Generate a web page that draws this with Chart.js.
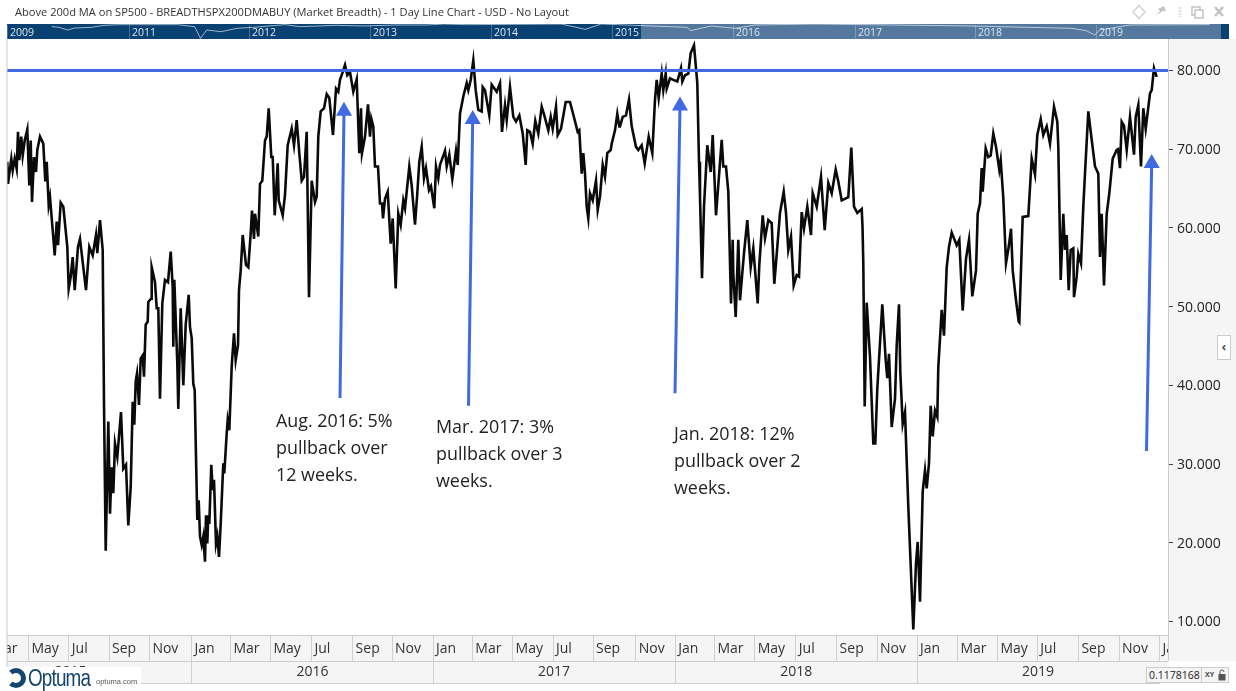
<!DOCTYPE html>
<html>
<head>
<meta charset="utf-8">
<title>Above 200d MA on SP500</title>
<script src="https://cdn.jsdelivr.net/npm/chart.js@4/dist/chart.umd.min.js"></script>
<style>
  html, body { margin: 0; padding: 0; background: #fff; overflow: hidden; }
  body { width: 1236px; height: 691px; position: relative; font-family: "Open Sans", sans-serif; color: #222; }
  #chart { position: absolute; left: 0; top: 0; }
  .abs { position: absolute; white-space: nowrap; }
  #title { left: 15px; top: 4px; font-size: 11.1px; line-height: 16px; color: #333; }
  #band { left: 7px; top: 24px; width: 1222px; height: 15px; background: #0a4173; }
  #window { left: 641px; top: 24px; width: 580px; height: 15px; background: #55799e; }
  #overview { position: absolute; left: 7px; top: 24px; }
  .yr { top: 25px; font-size: 10.5px; line-height: 14px; color: #dbe5ee; padding-left: 2px; height: 14px; border-left: 1px solid rgba(255,255,255,.25); }
  .note { font-size: 17.9px; line-height: 27px; color: #222; }
  #logo { left: 5px; top: 667px; width: 136px; height: 24px; background: #fff; }
  #logo b { position: absolute; left: 23px; top: -2px; font: 400 23px/26px "Liberation Sans", sans-serif; color: #14456f; letter-spacing: -1px; transform: scaleX(.82); transform-origin: left top; }
  #logo i { position: absolute; left: 91px; top: 10px; font: 400 7.5px/10px "Liberation Sans", sans-serif; color: #555; }
  #logo u { position: absolute; left: 1px; top: 1px; width: 10px; height: 10px; border: 5px solid #14456f; border-radius: 50%; border-left-color: #fff; }
  #cursor { left: 1146px; top: 667px; width: 81px; height: 14px; border: 1px solid #ccc; background: #f5f5f5; font-size: 10.5px; line-height: 14px; overflow: hidden; }
  #cursor span { position: absolute; left: 2px; }
  #cursor em { position: absolute; right: 0; top: 0; width: 27px; height: 14px; background: #f5f5f5; border-left: 1px solid #ccc; font: 700 7px/14px "Open Sans", sans-serif; padding-left: 3px; box-sizing: border-box; color: #444; }
  #cursor svg { position: absolute; right: 2px; top: 1px; }
  #tab { left: 1217px; top: 335px; width: 12px; height: 23px; border: 1px solid #ccc; background: #fff; font-size: 13px; font-weight: 700; line-height: 21px; text-align: center; color: #555; }
  #icons { left: 1130px; top: 3px; }
</style>
</head>
<body>
<canvas id="chart" width="1236" height="691"></canvas>
<div class="abs" id="title">Above 200d MA on SP500 - BREADTHSPX200DMABUY (Market Breadth) - 1 Day Line Chart - USD - No Layout</div>
<div class="abs" id="band"></div>
<div class="abs" id="window"></div>
<canvas id="overview" width="1222" height="15"></canvas>
<div id="navLabels"></div>
<svg class="abs" id="icons" width="100" height="18" viewBox="0 0 100 18">
  <path d="M9 2.5 L15 9 L9 15.5 L3 9 Z" fill="none" stroke="#ccc" stroke-width="1.2"/>
  <path d="M25 13 L30 8 L28 6 L34 3 L36 8 L33 8 L28 11 Z" fill="#c4c4c4"/>
  <path d="M50 4 v10" stroke="#e4e4e4" stroke-width="3" stroke-dasharray="2 1"/>
  <rect x="62" y="4" width="8" height="8" fill="none" stroke="#bbb" stroke-width="1.3"/>
  <rect x="65" y="7" width="8" height="8" fill="#fff" stroke="#bbb" stroke-width="1.3"/>
  <path d="M85 4 L93 13 M93 4 L85 13" stroke="#c4c4c4" stroke-width="2.6"/>
</svg>
<div class="abs note" style="left:276px;top:407px">Aug. 2016: 5%<br>pullback over<br>12 weeks.</div>
<div class="abs note" style="left:436px;top:413px">Mar. 2017: 3%<br>pullback over 3<br>weeks.</div>
<div class="abs note" style="left:674px;top:420px">Jan. 2018: 12%<br>pullback over 2<br>weeks.</div>
<div class="abs" id="logo"><u></u><b>Optuma</b><i>optuma.com</i></div>
<div class="abs" id="cursor"><span>0.1178168</span><em>XY</em><svg width="8" height="12" viewBox="0 0 8 12"><path d="M2 5 V3 a2 2 0 0 1 4 0" fill="none" stroke="#555" stroke-width="1"/><rect x="0.5" y="5" width="7" height="6.5" fill="#555"/></svg></div>
<div class="abs" id="tab">&lsaquo;</div>
<script>
// sessions on the time axis (about one per pixel)
const sessions = [
  0.3,1,4.3,5.7,7.7,9.7,11,12.3,14.3,15.7,
  17.7,20.3,22.3,23.7,25,27,29,30.3,33,36.3,
  38.3,39.7,41.7,43,45.7,47.7,49.7,51,53.7,56.3,
  60.3,61.7,63.7,65.7,67.7,71,73,76.3,79,82.3,
  85.7,89,90.3,93,95.7,97,98.7,101.3,103,104.7,
  106.3,108,110.3,114,116.3,119,121.3,123.7,125.7,127.3,
  128.7,130,132,133.7,135.7,137,138.7,140.7,141.3,144,
  144.7,148,149.7,151.3,153,155.3,158,161,163.7,165.7,
  166.3,167.3,170.3,171.3,173.7,176.3,178.7,181.7,183,184.7,
  186.3,187.7,189,190.3,191.7,193,194.7,196.3,198,199,
  200.3,201.3,202.3,204.3,205.7,207,209,210.3,212,213.7,
  216.3,217.3,219.7,220.7,222.3,224.7,227,228.7,231,232,
  233.7,235.7,239,241.3,243.7,245,247,248,251.3,253,
  255.3,258,259.7,261.7,264.3,265.7,267.7,270.7,271.7,275.7,
  278,280.7,284.7,287,289.7,292.3,294.7,297,299.7,302,
  304.7,308,309.7,311.3,313.7,317,319.7,322.3,326,329,
  331.3,333,335.7,338,340.3,343,346.3,349.7,352.3,354,
  355,358,361,363,364.3,366.3,368,371,373,375,
  376,378,380.7,383.7,385.7,388.7,391.3,393.7,396.3,398,
  402.3,404.7,408,410.3,412.3,414.7,417,419,422,424,
  427.3,429,431.3,433,438,439.7,442.3,445.3,449,450.7,
  453,456.3,459.7,461.3,463.7,466.3,468.7,471.3,474.7,475.7,
  478,482.3,484.7,489.7,493,495,498,499.7,503,506.3,
  509,512.3,515.7,518.7,520.3,523,525.7,528.3,531.3,534.7,
  537.3,541.3,543.7,545.7,549,550.7,554,558.7,563,567.3,
  570.7,572.3,574.7,576.3,578,579.7,581.3,583,585.7,589,
  590.7,593,595.7,598,600.3,603.7,604.7,608,610.3,612.3,
  613,615.7,619,622,624.7,629,631.3,634.7,637.7,641.7,
  645.3,648,649.7,651.7,654.7,656.3,658.7,659.7,663,666.3,
  670.3,674,675.3,678,681.3,683.7,687,690.3,692,693,
  695,697,700.3,703.7,705.7,709,711.7,714.7,716.3,719,
  721.3,724,725.7,726.3,728.7,731.3,733,737,740.3,743.7,
  746.3,750.7,752.3,755.7,758,761.3,764.7,767.3,770.3,773,
  776.7,779,781.3,784,786.7,789.7,792,794.7,797,800.3,
  804,805.7,809.7,814,817.7,821.3,824.7,828.7,831.3,834.7,
  841.3,844.3,847,850.3,854.7,855.5,856.3,857.7,859.7,863,
  866.3,868.3,870.3,875.3,878.7,880.3,882,884.7,888,889.7,
  892,893.3,895.7,898,901.3,906.3,909,910.7,913,915.7,
  918,919.7,922,923.7,925.7,928,930.3,931.3,934.7,937,
  939.7,942,944.7,949.7,952.3,955.7,959,962,965.3,969,
  970.7,973,974.7,975.7,978.7,981.3,983.7,986.3,989,992.3,
  993.7,996.3,999,1001.7,1004,1005.7,1009,1011.7,1012.3,1015.7,
  1021.3,1024.7,1028,1030.3,1033.7,1036.3,1039.7,1043,1047,1050.3,
  1051.3,1053.7,1056.3,1058,1059.7,1061.7,1063.7,1066.3,1067,1069.7,
  1071.3,1074,1076.3,1078,1081.3,1084.7,1088,1091.3,1093,1094.7,
  1097,1099.7,1102.3,1105.7,1109.7,1111,1113,1114.7,1117,1119.7,
  1123,1127,1128.7,1131.3,1134,1136.3,1138.7,1143,1144.7,1147,
  1149.7
];
// percent of SP500 members above the 200 day average
const breadth = [
  68.4,65.6,68.8,67.3,68.8,67.5,72.2,68.6,71.6,69.2,
  71.1,72.5,65.4,71.1,63.3,69,67.1,69.9,71.6,70.7,
  65.9,68.4,62.9,63.9,59.7,56.5,60.8,57.8,63.2,62.7,
  57.6,52.3,53.8,56.3,52.1,57.6,58.6,55,52.1,57.6,
  56.5,59.1,56.8,61,57.2,37.7,19,35.4,23.7,29.6,
  26.3,32.6,30.9,36.6,29.4,29.9,22.2,27.1,37.9,35,
  40.5,41.5,37.5,43.4,43.8,41.1,47.7,48.1,50.6,51,
  55,53.1,49.8,49.8,38.3,50.4,53.4,53.1,57,52.5,
  44.9,53.4,42.8,37,49.8,40,47.7,51.5,47.4,46,
  40.2,39.4,30.9,22.9,25.4,20.8,19.7,20.8,17.6,23.5,
  19.9,23.5,22.4,29.9,26.7,28,19.9,20.8,18.2,22.4,
  30.1,28.8,33.9,35.6,34.3,42.4,46.6,43.2,45.1,52.1,
  54.6,59.1,55.3,55,59.3,62.2,58.6,61.8,58.9,65.6,
  66,71.1,71.6,75.2,69,69,61.6,68.2,63.5,61.6,
  64.2,70.5,72.6,70.5,73.7,69.5,66,66.5,72.2,51.2,
  66,63.3,64,71.6,74.8,75.2,77,76.5,71.8,77.7,
  77.3,78.8,79.8,80.7,79.4,79.8,77.3,78.9,69.5,75.2,
  69.5,71.6,75.7,71.6,73.9,72.9,67.8,67.8,63.1,63.1,
  61.2,63.7,64.6,58,61.2,52.3,61.8,60.4,63.5,62.5,
  67.8,65.4,60.4,64.4,68.4,70.3,66.3,67.6,64.8,65.3,
  62.5,67.8,66.3,68,69.8,67.8,69.3,66.2,69.8,68,
  74.5,76.7,78.4,77.5,78.8,81.3,77.5,75,74.8,77.9,
  77.5,74.3,78.2,77.3,78.4,72.2,75.6,73.7,77.9,74.1,
  73.5,74.3,72,68,72.4,72.2,70.7,73.6,72,75.4,
  74.3,72.4,74.1,72.6,75.4,71.8,72.6,76,76,73.9,
  72.2,72.4,66.9,69.5,66.9,62.7,61.2,64.4,63.5,66,
  62.3,64,68,66.5,69.5,69.9,70.7,72.4,74.5,72.9,
  72.9,74.1,74.3,76.3,72.9,70.3,69.9,70.5,68.2,71.6,
  69.5,76.3,78.8,76.5,79.6,77.5,79.6,77.7,79,78.8,
  78.6,80.3,78.6,79.4,79.6,82.2,83.2,78.4,68.4,64,
  53.6,62.7,70.5,67.1,71.8,61.6,66.1,71.2,67.8,67.8,
  64.6,50.4,58.5,54.2,48.7,58.5,50.8,56.8,61,55,
  57.4,50.4,55.3,61.6,58.7,61,60.6,52.9,57.6,61.9,
  64.6,61.9,57.2,58.9,52.7,54,53.8,62,59.9,62.7,
  59.1,64.4,62.7,66.5,59.7,65.7,64.4,67.4,65.9,63.5,
  63.9,70.2,62.7,61.9,62.4,60.2,55.5,37.3,50.5,43.6,
  32.6,32.6,39.6,50.3,43.2,40.9,44,34.7,38.3,45.1,
  50.3,41.7,35.1,36.6,24.6,9,17.4,20.1,12.5,26.5,
  29.2,26.9,30.1,37.4,33.5,36.8,36,42.3,49.6,46.3,
  55,57.6,59.4,57.8,58.5,49.5,56.1,58.5,51.3,54.6,
  61.8,63.1,67.6,64.6,70.1,69,69.2,72,70.3,67.4,
  68.6,63.8,55.5,57.6,59.9,54.6,50.8,48.1,48,61.4,
  61.5,68.8,66.8,71.8,73.8,71.8,72.9,70.7,75.4,73.5,
  70.3,53.4,61.8,57.2,59.1,52.1,57.2,57.4,51.2,53.8,
  56.7,55.5,62.7,66.9,74.8,71.2,67.8,66.9,56.3,61.8,
  52.7,61.8,64.4,68.8,69.9,70,67.6,73.5,73,69.9,
  74.1,69.3,74.1,75.6,67.8,75.2,72.6,77.1,77.5,80.3,
  79.2
];

const levelValue = 80;

// arrows: shaft foot and head centre, in session / percent units
const arrowSessions = [[333, 337], [461.5, 465.7], [668, 673], [1139.5, 1144.7]];
const arrowValues = [[38.4, 74.85], [37.4, 73.8], [39, 75.5], [31.65, 68.2]];

const yTicks = [10, 20, 30, 40, 50, 60, 70, 80];
const monthLabels = ['Mar','May','Jul','Sep','Nov','Jan','Mar','May','Jul','Sep','Nov','Jan','Mar','May','Jul','Sep','Nov','Jan','Mar','May','Jul','Sep','Nov','Jan','Mar','May','Jul','Sep','Nov','Jan'];
const monthTicks = [-18.5,21.5,61.8,102,142.4,184.5,223.5,263.4,304.5,345.6,385,426,465.3,505.6,546,586,628.8,668.3,707.4,747.7,788.8,829.6,870,910,950.5,990.4,1030.3,1071.4,1112,1152.5];
const yearLabels = ['2015','2016','2017','2018','2019'];
const yearTicks = [-57.5,184.5,426,668.3,910];

// navigator strip along the top
const navLabels = ['2009','2011','2012','2013','2014','2015','2016','2017','2018','2019'];
const navLeft = [7,129,249,370,491,612,733,855,975,1096];
const overviewYears = [2010.36,2010.42,2010.49,2010.55,2010.69,2010.79,2010.92,2011.4,2011.54,2011.59,2011.64,2011.76,2011.89,2012.02,2012.29,2012.41,2012.71,2012.94,2013.2,2013.46,2013.6,2013.79,2014.57,2014.77,2014.9,2015.32,2015.61,2015.64,2015.81,2016.01,2016.17,2016.66,2017.97,2018.79,2018.91,2018.98,2019.02,2019.27,2019.93];
const overviewValues = [84,80,64,76,80,92,96,96,84,14,64,54,74,80,96,84,92,88,94,94,100,96,100,68,100,88,80,60,88,74,94,100,88,74,60,34,64,94,96];

const sessionMax = 1161;
const valueMin = 8.28;
const valueMax = 84;

function arrowDataset(i) {
  const points = arrowSessions[i].map((s, j) => ({ x: s, y: arrowValues[i][j] }));
  return {
    data: points,
    borderColor: '#4169e1',
    backgroundColor: '#4169e1',
    borderWidth: 3,
    pointStyle: 'triangle',
    pointRadius: [0, 9.3],
    pointBorderWidth: 0,
    tension: 0
  };
}

// the month labels may not widen the layout
function noSidePadding(scale, height) {
  scale.height = height;
  scale.paddingLeft = 0;
  scale.paddingRight = 0;
}

// hides the axis labels that run past the plot on both sides
const edgeCover = {
  id: 'edgeCover',
  afterDraw(chart) {
    const ctx = chart.ctx;
    ctx.save();
    ctx.fillStyle = '#fff';
    ctx.fillRect(0, 0, 7, 691);
    ctx.fillRect(1168, 661, 68, 30);
    ctx.fillStyle = '#f5f5f5';
    ctx.fillRect(1168, 635, 68, 26);
    ctx.fillStyle = '#ccc';
    ctx.fillRect(6.5, 39, 1, 644);
    ctx.fillRect(7, 683, 1153, 1);
    ctx.fillRect(1168, 39, 1, 622);
    ctx.restore();
  }
};

new Chart(document.getElementById('chart').getContext('2d'), {
  type: 'line',
  data: {
    datasets: [
      arrowDataset(0), arrowDataset(1), arrowDataset(2), arrowDataset(3),
      {
        data: [{ x: 0, y: levelValue }, { x: sessionMax, y: levelValue }],
        borderColor: '#4169e1',
        borderWidth: 3,
        pointRadius: 0
      },
      {
        data: sessions.map((s, i) => ({ x: s, y: breadth[i] })),
        borderColor: '#0a0a0a',
        borderWidth: 2.6,
        pointRadius: 0,
        tension: 0
      }
    ]
  },
  plugins: [edgeCover],
  options: {
    responsive: false,
    animation: false,
    layout: { autoPadding: false, padding: { left: 7, top: 39, right: 0, bottom: 8 } },
    plugins: { legend: { display: false }, tooltip: { enabled: false } },
    scales: {
      x: {
        type: 'linear',
        min: 0,
        max: sessionMax,
        weight: 0,
        backgroundColor: '#f5f5f5',
        afterBuildTicks: scale => { scale.ticks = monthTicks.map(v => ({ value: v })); },
        afterFit: scale => noSidePadding(scale, 26),
        grid: { drawOnChartArea: false, tickLength: 26, color: '#d0d0d0', lineWidth: 1 },
        border: { color: '#ccc' },
        ticks: {
          autoSkip: false, maxRotation: 0, align: 'start', labelOffset: 3, padding: -20,
          color: '#333', font: { family: 'Open Sans', size: 14 },
          callback: (v, i) => monthLabels[i]
        }
      },
      x2: {
        type: 'linear',
        axis: 'x',
        position: 'bottom',
        min: 0,
        max: sessionMax,
        weight: 1,
        backgroundColor: '#f5f5f5',
        afterBuildTicks: scale => { scale.ticks = yearTicks.map(v => ({ value: v })); },
        afterFit: scale => noSidePadding(scale, 22),
        grid: { drawOnChartArea: false, tickLength: 22, color: '#d0d0d0', lineWidth: 1 },
        border: { color: '#ccc' },
        ticks: {
          autoSkip: false, maxRotation: 0, labelOffset: 121, padding: -19,
          color: '#333', font: { family: 'Open Sans', size: 14 },
          callback: (v, i) => yearLabels[i]
        }
      },
      y: {
        position: 'right',
        min: valueMin,
        max: valueMax,
        backgroundColor: '#f5f5f5',
        afterBuildTicks: scale => { scale.ticks = yTicks.map(v => ({ value: v })); },
        afterFit: scale => { scale.width = 68; },
        grid: { drawOnChartArea: false, tickLength: 5, color: '#444' },
        border: { color: '#ccc' },
        ticks: {
          padding: 4,
          labelOffset: 1,
          color: '#222', font: { family: 'Open Sans', size: 14 },
          callback: v => v.toFixed(3)
        }
      }
    }
  }
});

new Chart(document.getElementById('overview').getContext('2d'), {
  type: 'line',
  data: {
    datasets: [{
      data: overviewYears.map((y, i) => ({ x: y, y: overviewValues[i] })),
      borderColor: 'rgba(255,255,255,0.6)',
      borderWidth: 1,
      pointRadius: 0,
      tension: 0
    }]
  },
  options: {
    responsive: false,
    animation: false,
    layout: { autoPadding: false },
    plugins: { legend: { display: false }, tooltip: { enabled: false } },
    scales: {
      x: { type: 'linear', display: false, min: 2009.99, max: 2020.09 },
      y: { display: false, min: 10, max: 100 }
    }
  }
});

const navHolder = document.getElementById('navLabels');
navLabels.forEach((label, i) => {
  const el = document.createElement('div');
  el.className = 'abs yr';
  el.style.left = navLeft[i] + 'px';
  el.textContent = label;
  navHolder.appendChild(el);
});
</script>
</body>
</html>
